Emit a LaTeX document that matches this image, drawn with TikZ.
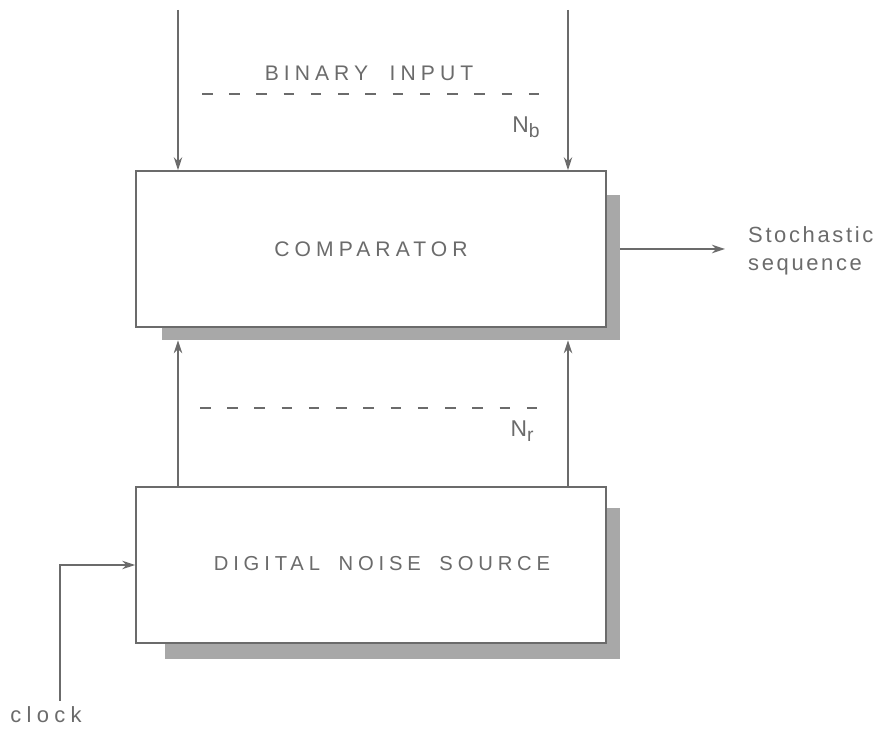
\documentclass[tikz,border=0pt]{standalone}
\usepackage{fontspec}
\setmainfont{Liberation Sans}
\newfontfamily\stencil[LetterSpace=24]{Liberation Sans}
\newfontfamily\script[LetterSpace=12]{Liberation Sans}
\usetikzlibrary{arrows.meta}
\definecolor{ink}{gray}{0.42}
\definecolor{shade}{gray}{0.66}
\begin{document}
\begin{tikzpicture}[
    blk/.style={draw=ink, line width=1pt, fill=white, minimum width=9.4cm, minimum height=3.12cm,
                text=ink, font=\stencil\fontsize{12}{14}\selectfont},
    shd/.style={fill=shade, inner sep=0pt},
    lbl/.style={text=ink, font=\stencil\fontsize{12}{14}\selectfont},
    sig/.style={draw=ink, line width=0.8pt, -{Stealth[length=2.6mm, width=1.7mm]}},
    sep/.style={draw=ink, line width=0.8pt, dash pattern=on 6pt off 9.5pt}
]
        \useasboundingbox (0,0) rectangle (17.72,14.64);

        \node[shd, minimum width=9.16cm, minimum height=2.9cm] (cmpsh) at (7.82,9.29) {};
        \node[shd, minimum width=9.1cm, minimum height=3.02cm] (srcsh) at (7.85,2.97) {};
        \node[blk] (cmp) at (7.42,9.66) {COMPARATOR};
        \node[blk] (src) at (7.42,3.34) {};
        \node[lbl, font=\stencil\fontsize{11.5}{14}\selectfont] (srctxt) at (7.64,3.36) {DIGITAL\hspace{0.4em} NOISE\hspace{0.4em} SOURCE};

        \foreach \i/\x in {l/3.56, r/11.36} {
            \coordinate (top\i) at (\x,14.44);
            \draw[sig] (top\i) -- (top\i |- cmp.north);
            \draw[sig] (top\i |- src.north) -- (top\i |- cmpsh.south);
        }

        \coordinate (bl) at (4.04,12.76);
        \coordinate (br) at (11.0,12.76);
        \draw[sep] (bl) -- (br);
        \coordinate (rl) at (4.0,6.48);
        \coordinate (rr) at (11.0,6.48);
        \draw[sep] (rl) -- (rr);

        \node[lbl] (bin) at (7.38,13.18) {BINARY\hspace{0.5em} INPUT};
        \node[lbl, font=\script\fontsize{13}{15}\selectfont] (nb) at (10.52,12.1) {N\raisebox{-0.45ex}{\fontsize{11}{13}\selectfont b}};
        \node[lbl, font=\script\fontsize{13}{15}\selectfont] (nr) at (10.44,6.02) {N\raisebox{-0.45ex}{\fontsize{11}{13}\selectfont r}};

        \node[lbl, anchor=west, align=left, font=\script\fontsize{12.5}{16}\selectfont] (out) at (14.84,9.63) {Stochastic\\sequence};
        \coordinate (tip) at (14.5,9.66);
        \draw[sig] (cmpsh.east |- cmp.east) -- (tip);

        \node[lbl, font=\stencil\fontsize{12.5}{14}\selectfont] (clk) at (0.92,0.34) {clock};
        \coordinate (bend) at (1.2,3.34);
        \draw[sig] (clk.north -| bend) -- (bend) -- (src.west);
\end{tikzpicture}
\end{document}
